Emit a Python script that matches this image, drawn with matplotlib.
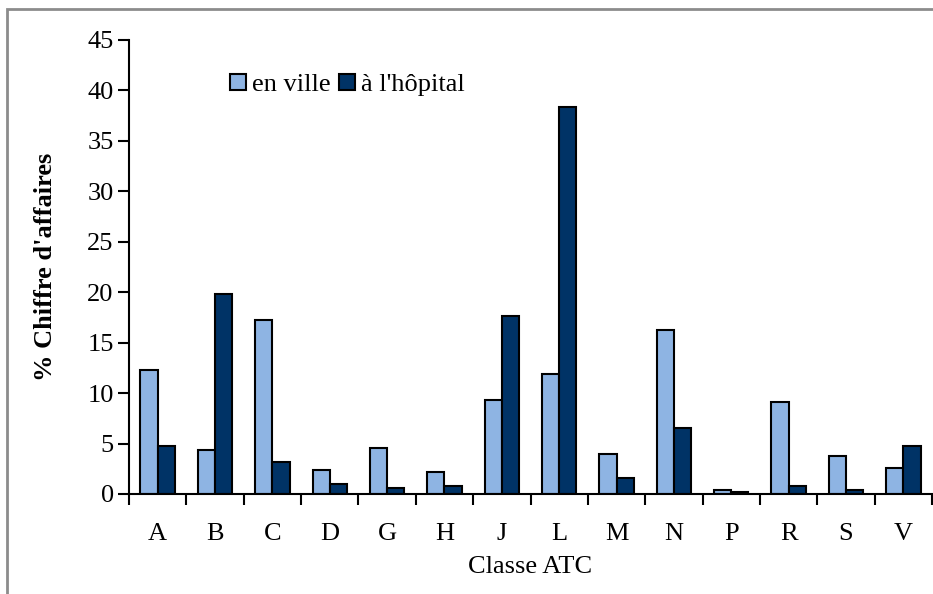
import numpy as np
import matplotlib
matplotlib.use("Agg")
from matplotlib import pyplot as plt
from matplotlib.patches import Rectangle

plt.rcParams['font.family'] = ['Liberation Serif', 'DejaVu Serif']

# Part du chiffre d'affaires par classe ATC
classes = ['A', 'B', 'C', 'D', 'G', 'H', 'J', 'L', 'M', 'N', 'P', 'R', 'S', 'V']
en_ville = [12.3, 4.4, 17.2, 2.4, 4.6, 2.2, 9.3, 11.9, 4.0, 16.3, 0.4, 9.1, 3.8, 2.6]
hopital = [4.8, 19.8, 3.2, 1.0, 0.6, 0.8, 17.6, 38.4, 1.6, 6.5, 0.2, 0.8, 0.4, 4.8]

FS = 19
W, H = 933, 594
fig = plt.figure(figsize=(W / 100, H / 100), dpi=100)
ax = fig.add_axes([129 / W, 1 - 494 / H, (932 - 129) / W, (494 - 40) / H])

# cadre gris autour du graphique
fig.patches.append(Rectangle((7 / W, -0.1), 1.2, 1 - 9 / H + 0.1, transform=fig.transFigure,
                             fill=False, edgecolor='#8c8c8c', linewidth=2))

x = np.arange(len(classes))
bw = 0.3
ax.bar(x + 0.5 - bw / 2, en_ville, bw, color='#8eb4e3', edgecolor='black', linewidth=1.5,
       label='en ville')
ax.bar(x + 0.5 + bw / 2, hopital, bw, color='#003366', edgecolor='black', linewidth=1.5,
       label="à l'hôpital")

ax.set_xlim(0, len(classes))
ax.set_ylim(0, 45)
ax.set_yticks(range(0, 46, 5))
ax.set_xticks(np.arange(len(classes) + 1))
ax.set_xticklabels([])
ax.set_xticks(x + 0.5, minor=True)
ax.set_xticklabels(classes, minor=True)
ax.tick_params(axis='x', which='minor', length=0, pad=21, labelsize=FS)
ax.tick_params(axis='x', which='major', length=8, width=1.5)
ax.tick_params(axis='y', length=8, width=1.5, pad=3, labelsize=FS)

for s in ['top', 'right']:
    ax.spines[s].set_visible(False)
for s in ['left', 'bottom']:
    ax.spines[s].set_linewidth(1.5)

ax.set_xlabel('Classe ATC', fontsize=FS, labelpad=8)
ax.set_ylabel("% Chiffre d'affaires", fontsize=FS, fontweight='bold', labelpad=22)

ax.legend(loc='center left', bbox_to_anchor=(230 / W, 1 - 85 / H), bbox_transform=fig.transFigure,
          ncol=2, frameon=False, fontsize=FS, handlelength=0.6, handleheight=0.6,
          handletextpad=0.25, columnspacing=0.3, borderpad=0, borderaxespad=0)

fig.savefig('out.png', dpi=100)
